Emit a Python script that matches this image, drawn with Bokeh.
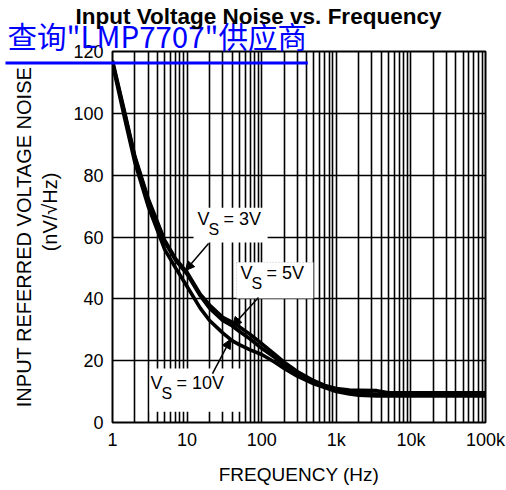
import numpy as np
from bokeh.plotting import figure
from bokeh.models import Range1d, FixedTicker, Label, BoxAnnotation, Arrow, NormalHead, Title
from bokeh.embed import file_html
from bokeh.resources import INLINE

# Input-referred voltage noise (nV/sqrt(Hz)) versus frequency for three supply voltages
freq = [1, 1.5, 2, 3, 5, 7, 10, 15, 20, 30, 40, 50, 70, 100, 150, 200, 300,
        500, 700, 1000, 1500, 2000, 3500, 5000, 10000, 100000]
noise_3v = [117, 99, 86, 72.5, 59, 53, 48.5, 41.5, 38, 34, 32.5, 31, 28.5, 25.5,
            22, 19.5, 16.5, 13.5, 12, 11, 10.5, 10.4, 10.3, 9.6, 9.6, 9.6]
noise_5v = [116.5, 98.5, 85.5, 72, 58.5, 52.5, 48, 41, 37, 33, 31.3, 29.5, 27, 24,
            21, 18.5, 15.5, 13, 11.8, 10.5, 9.8, 9.4, 9.2, 9.2, 9.2, 9.2]
noise_10v = [116, 97, 84, 70, 56, 50, 44, 37, 33, 29, 26.5, 25.2, 23.5, 22, 19.5,
             17.5, 15, 12.5, 11.3, 10, 9.2, 8.8, 8.6, 8.6, 8.6, 8.6]

x_ticks = [1, 10, 100, 1000, 10000, 100000]
x_tick_labels = ["1", "10", "100", "1k", "10k", "100k"]
x_minor = [m * 10 ** d for d in range(5) for m in range(2, 10)]
y_ticks = [0, 20, 40, 60, 80, 100, 120]

FONT = "Liberation Sans"

p = figure(width=506, height=490, x_axis_type="log",
           x_range=Range1d(1, 100000), y_range=Range1d(0, 120),
           output_backend="svg", toolbar_location=None,
           min_border_left=112, min_border_right=21,
           min_border_top=51, min_border_bottom=68)
p.title = None
p.background_fill_color = "white"
p.border_fill_color = "white"
p.outline_line_color = "black"
p.outline_line_width = 2

# axes
p.xaxis.ticker = FixedTicker(ticks=x_ticks, minor_ticks=x_minor)
p.xaxis.major_label_overrides = {t: lab for t, lab in zip(x_ticks, x_tick_labels)}
p.yaxis.ticker = FixedTicker(ticks=y_ticks)
for ax in (p.xaxis[0], p.yaxis[0]):
    ax.axis_line_color = None
    ax.major_tick_line_color = None
    ax.minor_tick_line_color = None
    ax.major_tick_in = 0
    ax.major_tick_out = 0
    ax.minor_tick_in = 0
    ax.minor_tick_out = 0
    ax.major_label_text_font = FONT
    ax.major_label_text_font_size = "18px"
    ax.major_label_text_color = "black"
    ax.axis_label_text_font = FONT
    ax.axis_label_text_font_size = "19px"
    ax.axis_label_text_font_style = "normal"
    ax.axis_label_text_color = "black"
p.xaxis.major_label_standoff = 7
p.yaxis.major_label_standoff = 9
p.xaxis.axis_label = "FREQUENCY (Hz)"
p.xaxis.axis_label_standoff = 11
# the unit line sits toward the top end of the main line (non-breaking spaces lead it)
p.yaxis.axis_label = "INPUT REFERRED VOLTAGE NOISE\n" + "\u00a0" * 9 + "(nV/\u221aHz)"
p.yaxis.axis_label_text_font_size = "20px"
p.yaxis.axis_label_text_line_height = 1.2
p.yaxis.axis_label_standoff = 9

# grid
p.xgrid.grid_line_color = "black"
p.xgrid.grid_line_width = 1.6
p.xgrid.minor_grid_line_color = "black"
p.xgrid.minor_grid_line_width = 1.6
p.ygrid.grid_line_color = "black"
p.ygrid.grid_line_width = 1.6

# label boxes that blank out the grid behind the annotations
p.add_layout(BoxAnnotation(left=12.2, right=120, bottom=58.2, top=69.5,
                           fill_color="white", fill_alpha=1, line_color=None))
p.add_layout(BoxAnnotation(left=46, right=494, bottom=40.1, top=51.8,
                           fill_color="white", fill_alpha=1, line_color="#444444",
                           line_width=1, line_dash="1 2"))
p.add_layout(BoxAnnotation(left=3.15, right=55.3, bottom=3.5, top=17.5,
                           fill_color="white", fill_alpha=1, line_color=None))

# noise curves
for series in (noise_3v, noise_5v, noise_10v):
    p.line(freq, series, line_color="black", line_width=3.6, line_join="round")


def curve_at(f, series):
    return float(np.interp(np.log10(f), np.log10(freq), series))


def supply_label(f, v, supply):
    p.add_layout(Label(x=f, y=v, text="V", text_font=FONT, text_font_size="18px",
                       text_color="black"))
    p.add_layout(Label(x=f, y=v, x_offset=11, y_offset=-9, text="S", text_font=FONT,
                       text_font_size="16px", text_color="black"))
    p.add_layout(Label(x=f, y=v, x_offset=26, text="= " + supply, text_font=FONT,
                       text_font_size="18px", text_color="black"))


supply_label(13.8, 62.7, "3V")
supply_label(52, 45.0, "5V")
supply_label(3.23, 9.4, "10V")

# pointer arrows onto each curve
for (fs, vs, ft, series) in ((19.4, 57.9, 9.5, noise_3v),
                             (90.6, 40.4, 40.6, noise_5v),
                             (21.9, 15.8, 38.2, noise_10v)):
    p.add_layout(Arrow(end=NormalHead(size=9, fill_color="black", line_color="black"),
                       x_start=fs, y_start=vs, x_end=ft, y_end=curve_at(ft, series),
                       line_color="black", line_width=1.5))

# top panel: link underline, supplier link, chart title (inner to outer)
p.add_layout(Label(x=-107, y=-13, x_units="screen", y_units="screen",
                   text=" ", text_font_size="1px", padding=(151, 1),
                   background_fill_color="#0000ff", background_fill_alpha=1),
             "above")
p.add_layout(Title(text="查询\"LMP7707\"供应商", align="left", offset=-105,
                   standoff=-15, text_font="Noto Sans CJK SC", text_font_size="29.5px",
                   text_font_style="normal", text_color="#0000ff"), "above")
p.add_layout(Title(text="Input Voltage Noise vs. Frequency", align="left",
                   offset=-37, standoff=-18, text_font=FONT, text_font_size="22.5px",
                   text_font_style="bold", text_color="black"), "above")

open("out.html", "w").write(file_html(p, INLINE))
